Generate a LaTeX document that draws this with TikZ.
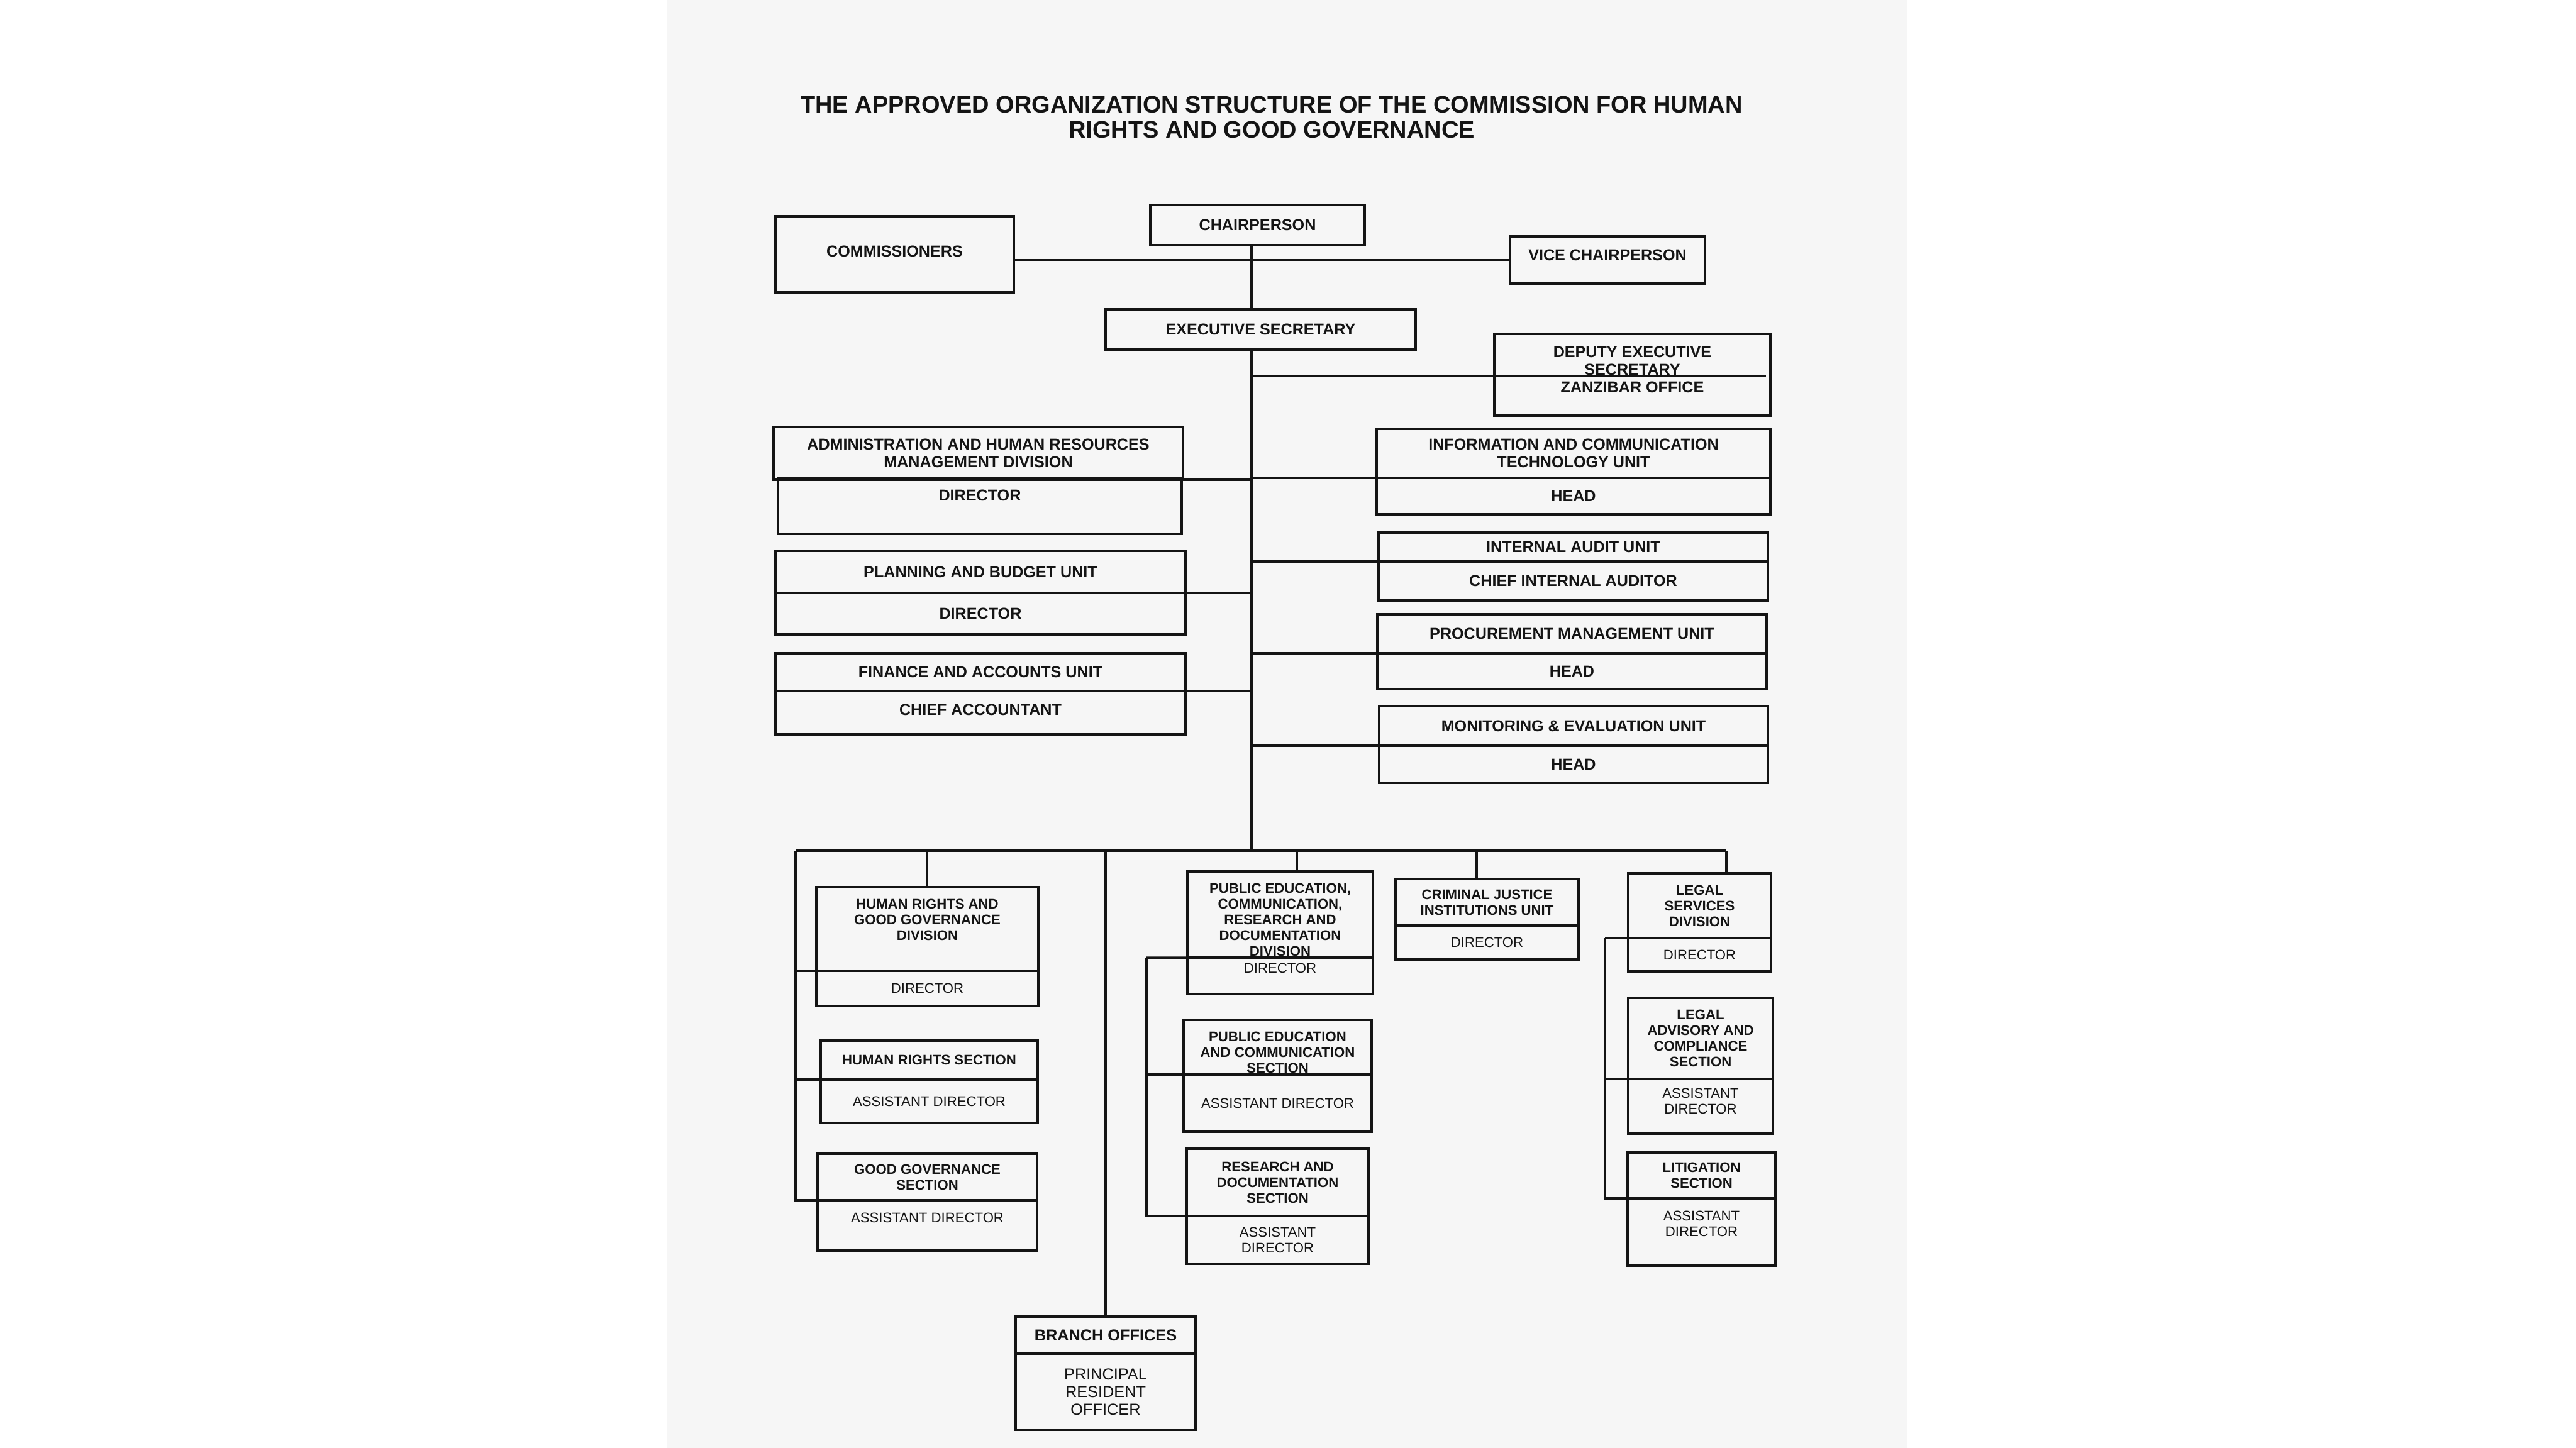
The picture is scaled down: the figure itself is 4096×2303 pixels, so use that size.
\documentclass[tikz,border=0pt]{standalone}
\usepackage{fontspec}
\setmainfont{Liberation Sans}
\definecolor{pagegray}{RGB}{246,246,246}
\definecolor{inkblack}{RGB}{20,20,20}
\usetikzlibrary{positioning, calc}

\tikzset{
  box/.style={draw=inkblack, line width=1pt, inner sep=0pt, outer sep=0pt, align=center, text=inkblack},
  upper/.style={box, font=\fontsize{7.15}{7.97}\selectfont\bfseries},
  lower/.style={box, font=\fontsize{6.3}{7.11}\selectfont},
  lowerbold/.style={box, font=\fontsize{6.3}{7.11}\selectfont\bfseries},
  lift/.style={text depth=#1},
  sink/.style={text height=#1},
  link/.style={draw=inkblack, line width=1pt},
}

\begin{document}
\begin{tikzpicture}[x=0.01cm, y=-0.01cm]
  \useasboundingbox (0,0) rectangle (4096,2303);
  \fill[white] (0,0) rectangle (4096,2303);
  \fill[pagegray] (1061,0) rectangle (3033,2303);

  % title
  \node[font=\fontsize{10.8}{11.4}\selectfont\bfseries, align=center, text=inkblack] (title) at (2022,186)
    {THE APPROVED ORGANIZATION STRUCTURE OF THE COMMISSION FOR HUMAN\\RIGHTS AND GOOD GOVERNANCE};

  % top of the structure
  \node[upper, minimum width=3.41cm, minimum height=0.64cm] (chair) at (1999.5,358) {CHAIRPERSON};
  \node[upper, minimum width=3.79cm, minimum height=1.21cm, lift=0.1cm] (comm) at (1422.5,404.5) {COMMISSIONERS};
  \node[upper, minimum width=3.10cm, minimum height=0.75cm, lift=0.15cm] (vice) at (2556,413.5) {VICE CHAIRPERSON};
  \node[upper, minimum width=4.93cm, minimum height=0.64cm] (exsec) at (2004.5,524) {EXECUTIVE SECRETARY};
  \node[upper, minimum width=4.39cm, minimum height=1.30cm, lift=0.16cm] (deputy) at (2595.5,596) {DEPUTY EXECUTIVE\\SECRETARY\\ZANZIBAR OFFICE};

  % units on the left
  \node[upper, minimum width=6.51cm, minimum height=0.84cm] (admin) at (1555.5,721) {ADMINISTRATION AND HUMAN RESOURCES\\MANAGEMENT DIVISION};
  \node[upper, minimum width=6.42cm, minimum height=0.88cm, lift=0.34cm] (admin-dir) at (1558,805) {DIRECTOR};
  \node[upper, minimum width=6.52cm, minimum height=0.67cm] (plan) at (1559,909.5) {PLANNING AND BUDGET UNIT};
  \node[upper, minimum width=6.52cm, minimum height=0.66cm, below=0pt of plan] (plan-dir) {DIRECTOR};
  \node[upper, minimum width=6.52cm, minimum height=0.60cm] (fin) at (1559,1069) {FINANCE AND ACCOUNTS UNIT};
  \node[upper, minimum width=6.52cm, minimum height=0.69cm, lift=0.1cm, below=0pt of fin] (fin-acc) {CHIEF ACCOUNTANT};

  % units on the right
  \node[upper, minimum width=6.26cm, minimum height=0.78cm] (ict) at (2502,721) {INFORMATION AND COMMUNICATION\\TECHNOLOGY UNIT};
  \node[upper, minimum width=6.26cm, minimum height=0.58cm, below=0pt of ict] (ict-head) {HEAD};
  \node[upper, minimum width=6.19cm, minimum height=0.46cm] (audit) at (2501.5,870) {INTERNAL AUDIT UNIT};
  \node[upper, minimum width=6.19cm, minimum height=0.62cm, below=0pt of audit] (audit-chief) {CHIEF INTERNAL AUDITOR};
  \node[upper, minimum width=6.19cm, minimum height=0.62cm] (proc) at (2499.5,1008) {PROCUREMENT MANAGEMENT UNIT};
  \node[upper, minimum width=6.19cm, minimum height=0.57cm, below=0pt of proc] (proc-head) {HEAD};
  \node[upper, minimum width=6.18cm, minimum height=0.63cm] (mne) at (2502,1154.5) {MONITORING \& EVALUATION UNIT};
  \node[upper, minimum width=6.18cm, minimum height=0.59cm, below=0pt of mne] (mne-head) {HEAD};

  % divisions, units and sections
  \node[lowerbold, minimum width=3.53cm, minimum height=1.33cm, lift=0.3cm] (hrgg) at (1474.5,1477.5) {HUMAN RIGHTS AND\\GOOD GOVERNANCE\\DIVISION};
  \node[lower, minimum width=3.53cm, minimum height=0.56cm, below=0pt of hrgg] (hrgg-dir) {DIRECTOR};
  \node[lowerbold, minimum width=3.45cm, minimum height=0.62cm] (hrs) at (1477.5,1686) {HUMAN RIGHTS SECTION};
  \node[lower, minimum width=3.45cm, minimum height=0.69cm, below=0pt of hrs] (hrs-ad) {ASSISTANT DIRECTOR};
  \node[lowerbold, minimum width=3.49cm, minimum height=0.74cm] (ggs) at (1474.5,1872) {GOOD GOVERNANCE\\SECTION};
  \node[lower, minimum width=3.49cm, minimum height=0.80cm, lift=0.24cm, below=0pt of ggs] (ggs-ad) {ASSISTANT DIRECTOR};

  \node[lowerbold, minimum width=2.95cm, minimum height=1.37cm, sink=1.32cm] (pecrd) at (2035.5,1454.5) {PUBLIC EDUCATION,\\COMMUNICATION,\\RESEARCH AND\\DOCUMENTATION\\DIVISION};
  \node[lower, minimum width=2.95cm, minimum height=0.58cm, lift=0.24cm, below=0pt of pecrd] (pecrd-dir) {DIRECTOR};
  \node[lowerbold, minimum width=2.99cm, minimum height=0.87cm, sink=0.82cm] (pecs) at (2031.5,1665.5) {PUBLIC EDUCATION\\AND COMMUNICATION\\SECTION};
  \node[lower, minimum width=2.99cm, minimum height=0.91cm, below=0pt of pecs] (pecs-ad) {ASSISTANT DIRECTOR};
  \node[lowerbold, minimum width=2.89cm, minimum height=1.07cm] (rds) at (2031.5,1880.5) {RESEARCH AND\\DOCUMENTATION\\SECTION};
  \node[lower, minimum width=2.89cm, minimum height=0.76cm, below=0pt of rds] (rds-ad) {ASSISTANT\\DIRECTOR};

  \node[lowerbold, minimum width=2.91cm, minimum height=0.74cm] (cjiu) at (2364.5,1435) {CRIMINAL JUSTICE\\INSTITUTIONS UNIT};
  \node[lower, minimum width=2.91cm, minimum height=0.54cm, below=0pt of cjiu] (cjiu-dir) {DIRECTOR};

  \node[lowerbold, minimum width=2.27cm, minimum height=1.03cm] (lsd) at (2702.5,1440.5) {LEGAL\\SERVICES\\DIVISION};
  \node[lower, minimum width=2.27cm, minimum height=0.53cm, below=0pt of lsd] (lsd-dir) {DIRECTOR};
  \node[lowerbold, minimum width=2.30cm, minimum height=1.29cm] (lacs) at (2704,1651.5) {LEGAL\\ADVISORY AND\\COMPLIANCE\\SECTION};
  \node[lower, minimum width=2.30cm, minimum height=0.87cm, lift=0.16cm, below=0pt of lacs] (lacs-ad) {ASSISTANT\\DIRECTOR};
  \node[lowerbold, minimum width=2.35cm, minimum height=0.73cm] (lit) at (2705.5,1869.5) {LITIGATION\\SECTION};
  \node[lower, minimum width=2.35cm, minimum height=1.07cm, lift=0.26cm, below=0pt of lit] (lit-ad) {ASSISTANT\\DIRECTOR};

  \node[box, font=\fontsize{7.2}{8}\selectfont\bfseries, minimum width=2.86cm, minimum height=0.59cm] (branch) at (1758,2123.5) {BRANCH OFFICES};
  \node[box, font=\fontsize{7.2}{8}\selectfont, minimum width=2.86cm, minimum height=1.21cm, below=0pt of branch] (branch-pro) {PRINCIPAL\\RESIDENT\\OFFICER};

  % main line
  \coordinate (bus) at (1990,1353);
  \coordinate (dep-end) at (2808,598);
  \draw[link] (comm.east |- vice.west) -- (vice.west);
  \draw[link] (chair.south -| bus) -- (exsec.north -| bus);
  \draw[link] (exsec.south -| bus) -- (bus);
  \draw[link] (dep-end -| bus) -- (dep-end);
  \draw[link] (admin.south east) -- (admin.south east -| bus);
  \draw[link] (plan.south east) -- (plan.south east -| bus);
  \draw[link] (fin.south east) -- (fin.south east -| bus);
  \draw[link] (ict.south west) -- (ict.south west -| bus);
  \draw[link] (audit.south west) -- (audit.south west -| bus);
  \draw[link] (proc.south west) -- (proc.south west -| bus);
  \draw[link] (mne.south west) -- (mne.south west -| bus);

  % lower bus
  \coordinate (rail-hr) at (1265,1353);
  \coordinate (drop-pe) at (2062,1353);
  \coordinate (drop-cj) at (2348,1353);
  \coordinate (drop-lg) at (2745,1353);
  \coordinate (rail-pe) at (1823,1523);
  \coordinate (rail-lg) at (2552,1492);
  \draw[link] (rail-hr) -- (drop-lg);
  \draw[link] (hrgg.north |- bus) -- (hrgg.north);
  \draw[link] (branch.north |- bus) -- (branch.north);
  \draw[link] (drop-pe) -- (drop-pe |- pecrd.north);
  \draw[link] (drop-cj) -- (drop-cj |- cjiu.north);
  \draw[link] (drop-lg) -- (drop-lg |- lsd.north);

  \draw[link] (rail-hr) |- (ggs.south west);
  \draw[link] (rail-hr |- hrgg.south) -- (hrgg.south west);
  \draw[link] (rail-hr |- hrs.south) -- (hrs.south west);
  \draw[link] (rail-pe) -- (pecrd.south west);
  \draw[link] (rail-pe) |- (rds.south west);
  \draw[link] (rail-pe |- pecs.south) -- (pecs.south west);
  \draw[link] (rail-lg) -- (lsd.south west);
  \draw[link] (rail-lg) |- (lit.south west);
  \draw[link] (rail-lg |- lacs.south) -- (lacs.south west);
\end{tikzpicture}
\end{document}
